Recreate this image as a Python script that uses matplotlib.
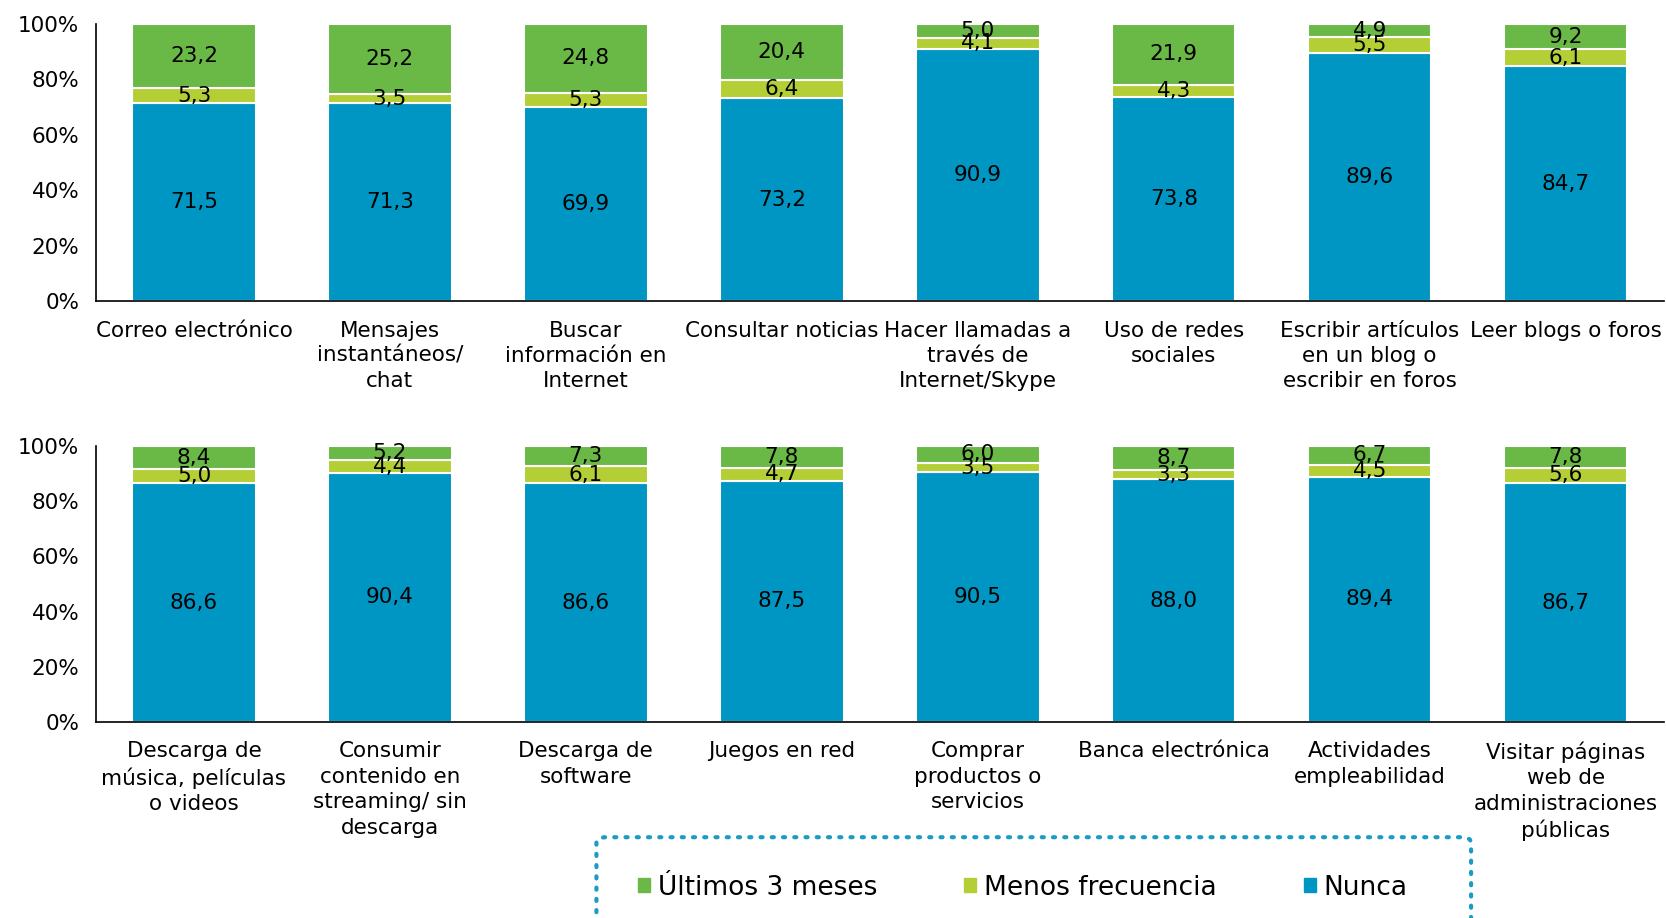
import numpy as np
import matplotlib.pyplot as plt
from matplotlib.patches import FancyBboxPatch, Patch

# Datos (porcentaje)
cats_top = ["Correo electrónico", "Mensajes\ninstantáneos/\nchat", "Buscar\ninformación en\nInternet",
            "Consultar noticias", "Hacer llamadas a\ntravés de\nInternet/Skype", "Uso de redes\nsociales",
            "Escribir artículos\nen un blog o\nescribir en foros", "Leer blogs o foros"]
nunca_top = [71.5, 71.3, 69.9, 73.2, 90.9, 73.8, 89.6, 84.7]
menos_top = [5.3, 3.5, 5.3, 6.4, 4.1, 4.3, 5.5, 6.1]
ultimos_top = [23.2, 25.2, 24.8, 20.4, 5.0, 21.9, 4.9, 9.2]

cats_bot = ["Descarga de\nmúsica, películas\no videos", "Consumir\ncontenido en\nstreaming/ sin\ndescarga",
            "Descarga de\nsoftware", "Juegos en red", "Comprar\nproductos o\nservicios", "Banca electrónica",
            "Actividades\nempleabilidad", "Visitar páginas\nweb de\nadministraciones\npúblicas"]
nunca_bot = [86.6, 90.4, 86.6, 87.5, 90.5, 88.0, 89.4, 86.7]
menos_bot = [5.0, 4.4, 6.1, 4.7, 3.5, 3.3, 4.5, 5.6]
ultimos_bot = [8.4, 5.2, 7.3, 7.8, 6.0, 8.7, 6.7, 7.8]

series_names = ["Últimos 3 meses", "Menos frecuencia", "Nunca"]
c_ult = "#6ab845"
c_men = "#b3cf35"
c_nun = "#0096c3"

FS = 15.5


def fmt(v):
    return f"{v:.1f}".replace(".", ",")


def stacked(ax, cats, nunca, menos, ultimos):
    nunca = np.array(nunca)
    menos = np.array(menos)
    ultimos = np.array(ultimos)
    tot = nunca + menos + ultimos
    parts = [(nunca, c_nun), (menos, c_men), (ultimos, c_ult)]
    x = np.arange(len(cats))
    bottom = np.zeros(len(cats))
    for vals, col in parts:
        h = vals / tot * 100
        ax.bar(x, h, bottom=bottom, width=0.63, color=col, edgecolor="white", linewidth=1.5)
        for xi, b, hh, v in zip(x, bottom, h, vals):
            ax.text(xi, b + hh / 2, fmt(v), ha="center", va="center", fontsize=FS, color="black")
        bottom = bottom + h
    ax.set_xlim(-0.5, len(cats) - 0.5)
    ax.set_ylim(0, 100)
    ax.set_yticks(range(0, 101, 20))
    ax.set_yticklabels([f"{t}%" for t in range(0, 101, 20)], fontsize=FS)
    ax.set_xticks(x)
    ax.set_xticklabels(cats, fontsize=FS, linespacing=1.34, va="top")
    ax.tick_params(axis="both", length=0)
    ax.tick_params(axis="x", pad=14)
    ax.tick_params(axis="y", pad=12)
    for s in ["top", "right"]:
        ax.spines[s].set_visible(False)
    ax.spines["left"].set_linewidth(1.2)
    ax.spines["bottom"].set_linewidth(1.2)


fig = plt.figure(figsize=(16.66, 9.18), dpi=100)
ax1 = fig.add_axes([0.0576, 0.672, 0.941, 0.302])
ax2 = fig.add_axes([0.0576, 0.2135, 0.941, 0.3005])
stacked(ax1, cats_top, nunca_top, menos_top, ultimos_top)
stacked(ax2, cats_bot, nunca_bot, menos_bot, ultimos_bot)

# cuadro de leyenda punteado
box = FancyBboxPatch((0.358, -0.03), 0.525, 0.118, boxstyle="round,pad=0,rounding_size=0.006",
                     transform=fig.transFigure, fill=False, edgecolor="#1a9cc4",
                     linestyle=(0, (0.5, 2.2)), linewidth=3, capstyle="round", clip_on=False)
fig.patches.append(box)
handles = [Patch(color=c) for c in [c_ult, c_men, c_nun]]
fig.legend(handles, series_names, loc="center", bbox_to_anchor=(0.614, 0.033), ncol=3,
           frameon=False, fontsize=19, handlelength=0.45, handleheight=0.45, handletextpad=0.3,
           columnspacing=3.3)

fig.savefig("out.png", dpi=100)
